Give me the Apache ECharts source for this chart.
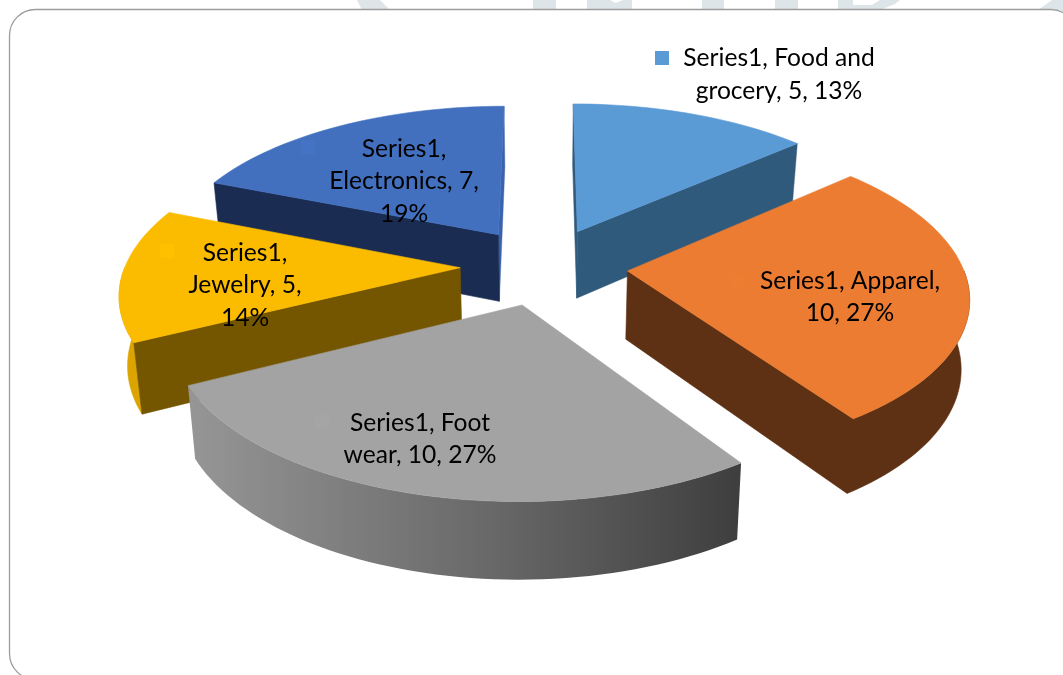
<!DOCTYPE html>
<html><head><meta charset="utf-8">
<style>html,body{margin:0;padding:0;background:#fff}#c{width:1063px;height:675px}</style>
<script src="https://cdn.jsdelivr.net/npm/echarts@6/dist/echarts.min.js"></script>
</head><body><div id="c"></div>
<script>
const categories = ['Food and grocery', 'Apparel', 'Foot wear', 'Jewelry', 'Electronics'];
const values = [5, 10, 10, 5, 7];
const labels = [
  'Series1, Food and\ngrocery, 5, 13%',
  'Series1, Apparel,\n10, 27%',
  'Series1, Foot\nwear, 10, 27%',
  'Series1,\nJewelry, 5,\n14%',
  'Series1,\nElectronics, 7,\n19%'
];
const keyColors = ['#5b9bd5', '#ed7d31', '#a5a5a5', '#ffc000', '#4472c4'];
const topColors = ['#5a9ad5', '#eb7c31', '#a3a3a3', '#fbbc00', '#4270bf'];
const wallColors = ['#305a7c', '#5f3114', '#444444', '#755600', '#1a2c52'];

// Scene layout, separate from the data
const scene = { cx: 544, cy: 266, rx: 335, ry: 155.5, persp: 0.145, explode: 0.25, depth: 68, depthPow: 0.7, baseShrink: 0.98 };
const labelPos = [[779, 74.5], [850, 297], [420, 439], [245, 285.5], [404, 181.5]];
const keyPos = [[662, 58], [738, 281], [322, 422], [167, 251], [308, 147]];
const total = values.reduce((a, b) => a + b, 0);

function topPt(X, Y) {
  const s = 1 / (1 - scene.persp * Y);
  return [scene.cx + scene.rx * X * s, scene.cy + scene.ry * Y * s, s];
}
function botPt(X, Y) {
  const p = topPt(X, Y);
  return [scene.cx + (p[0] - scene.cx) * scene.baseShrink, p[1] + scene.depth * Math.pow(p[2], scene.depthPow)];
}
function arc(a0, a1, ox, oy, fn) {
  const pts = [], n = Math.max(8, Math.ceil((a1 - a0) / 0.03));
  for (let i = 0; i <= n; i++) {
    const a = a0 + (a1 - a0) * i / n;
    pts.push(fn(ox + Math.sin(a), oy - Math.cos(a)).slice(0, 2));
  }
  return pts;
}
function poly(points, fill, z2, strokeColor, lw) {
  return { type: 'polygon', shape: { points }, style: { fill, stroke: strokeColor || fill, lineWidth: lw }, z2, silent: true };
}

const starts = [];
values.reduce((acc, v, i) => { starts[i] = acc; return acc + v; }, 0);

function renderItem(params, api) {
  const i = params.dataIndex;
  const v = api.value(1);
  const a0 = starts[i] / total * Math.PI * 2;
  const a1 = a0 + v / total * Math.PI * 2;
  const mid = (a0 + a1) / 2;
  const ox = scene.explode * Math.sin(mid), oy = -scene.explode * Math.cos(mid);
  const base = Math.round(oy * 100) * 10 + 2000;
  const topArc = arc(a0, a1, ox, oy, topPt);
  const botArc = arc(a0, a1, ox, oy, botPt);
  const apexT = topPt(ox, oy).slice(0, 2), apexB = botPt(ox, oy);
  const children = [];

  // Only the walls that face the viewer are drawn
  const arcFrom = Math.max(a0, Math.PI / 2), arcTo = Math.min(a1, Math.PI * 1.5);
  const hasArc = arcTo > arcFrom;
  const showStart = Math.sin(a0) < 0.001;
  const showEnd = Math.sin(a1) > -0.001;
  const visTop = hasArc ? arc(arcFrom, arcTo, ox, oy, topPt) : [];
  const visBot = hasArc ? arc(arcFrom, arcTo, ox, oy, botPt) : [];

  if (showStart) {
    children.push(poly([apexT, topArc[0], botArc[0], apexB], wallColors[i], base + 1, null, 0.6));
  }
  if (hasArc && showEnd) {
    // wall and rim share one colour: one outline, no seam
    children.push(poly([apexT].concat(visTop.slice().reverse(), visBot, [apexB]), wallColors[i], base, null, 0.6));
  } else {
    if (showEnd) {
      const endColor = i === 4 ? '#3a63ad' : wallColors[i];
      children.push(poly([apexT, topArc[topArc.length - 1], botArc[botArc.length - 1], apexB], endColor, base, null, 0.4));
    }
    if (hasArc) {
      let fill = i === 3 ? '#dba400' : wallColors[i];
      let stroke = fill, lw = 0.6;
      if (i === 2) {
        fill = { type: 'linear', x: 0, y: 0, x2: 1, y2: 0, colorStops: [{ offset: 0, color: '#969696' }, { offset: 0.55, color: '#686868' }, { offset: 1, color: '#3e3e3e' }] };
        stroke = 'none'; lw = 0;
      }
      children.push(poly(visTop.concat(visBot.slice().reverse()), fill, base, stroke, lw));
    }
  }
  children.push(
    poly([apexT].concat(topArc), topColors[i], base + 2, null, 0.6),
    { type: 'rect', shape: { x: keyPos[i][0] - 7, y: keyPos[i][1] - 7, width: 14, height: 14 }, style: { fill: keyColors[i] }, z2: base + 3, silent: true },
    { type: 'text', x: labelPos[i][0], y: labelPos[i][1], z2: 9000, silent: true,
      style: { text: labels[i], fill: '#000', font: '24.6px Lato, "Open Sans", sans-serif', lineHeight: 32.8, align: 'center', verticalAlign: 'middle' } }
  );
  return { type: 'group', children };
}

function wm(points) { return { type: 'polygon', z: 0, silent: true, shape: { points }, style: { fill: '#dde5e8' } }; }

const chart = echarts.init(document.getElementById('c'), null, { renderer: 'canvas' });
chart.setOption({
  animation: false,
  backgroundColor: '#fff',
  graphic: [
    wm([[357, 0], [380, 0], [390, 10], [362, 10]]),
    wm([[533, 0], [556, 0], [556, 10], [533, 10]]),
    wm([[587, 0], [610, 0], [616, 3], [623, 0], [632, 0], [632, 10], [587, 10]]),
    wm([[702, 0], [724, 0], [724, 10], [702, 10]]),
    wm([[775, 0], [798, 0], [798, 10], [775, 10]]),
    wm([[838, 0], [853, 0], [853, 5], [872, 5], [880, 0], [900, 0], [895, 4], [880, 10], [838, 10]]),
    wm([[1052, 0], [1063, 0], [1063, 12], [1038, 10]]),
    { type: 'rect', z: 1, silent: true, shape: { x: 9.5, y: 9.5, width: 1067, height: 670, r: 26 }, style: { fill: '#fff', stroke: '#9c9c9c', lineWidth: 1.3 } }
  ],
  series: [{
    type: 'custom',
    coordinateSystem: 'none',
    z: 5,
    clip: false,
    silent: true,
    renderItem,
    encode: { itemName: 0, value: 1 },
    data: categories.map((c, i) => [c, values[i]])
  }]
});
</script></body></html>
